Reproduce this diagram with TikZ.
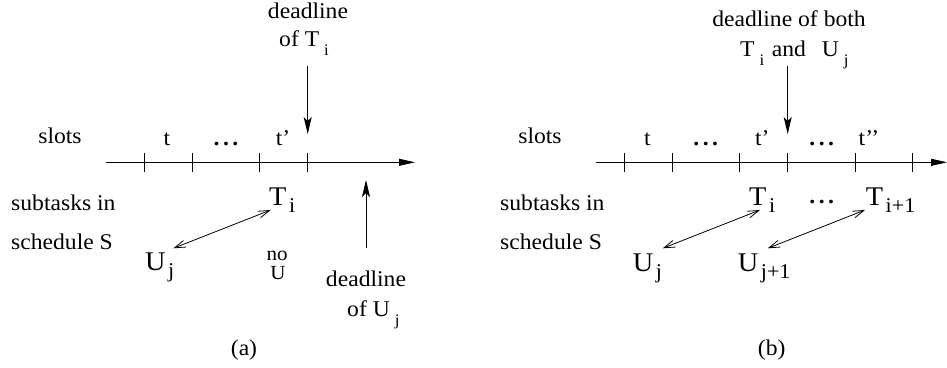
\documentclass[tikz,border=0pt]{standalone}
\usepackage{fontspec}
\setmainfont{Liberation Serif}[FakeStretch=1.05]
\usetikzlibrary{arrows.meta}
\newcommand\nrmfont{\fontsize{22.5}{26}\selectfont}
\newcommand\lblfont{\fontsize{27}{30}\selectfont}
\newcommand\nofont{\fontsize{20}{20}\selectfont}
\newcommand\lsub[1]{\hspace{2.5pt}\raisebox{-7pt}{\fontsize{21}{22}\selectfont #1}}
\newcommand\tsub[1]{\hspace{5pt}\raisebox{-9pt}{\fontsize{16}{17}\selectfont #1}}
\newcommand\dts{\textbf{.\hspace{3.5pt}.\hspace{3.5pt}.}}
\begin{document}
\begin{tikzpicture}[x=1pt,y=-1pt,
  txt/.style={inner sep=0pt, font=\nrmfont},
  big/.style={inner sep=0pt, font=\lblfont},
  axis/.style={line width=0.9pt,-{Triangle[length=16pt,width=7pt]}},
  dl/.style={line width=0.9pt,-{Stealth[length=17pt,width=8pt,inset=4pt]}},
  pair/.style={line width=0.8pt,{Straight Barb[length=11pt,width=7pt]}-{Straight Barb[length=11pt,width=7pt]}},
  tk/.style={line width=0.8pt}]
\useasboundingbox (0,0) rectangle (947,367);

% ---------------- panel (a)
\coordinate (a0) at (106,162.3);
\coordinate (a1) at (415,162.3);
\draw[axis] (a0) -- (a1);
\foreach \x in {144.3,192.7,259.7,307.7} \draw[tk] (\x,152.7) -- (\x,171.7);

\node[txt,anchor=base] (dlTa) at (308,18) {deadline};
\node[txt,anchor=base west] (ofTa) at (279,46.7) {of T\tsub{i}};
\coordinate (dTa0) at (307.7,66);
\coordinate (dTa1) at (307.7,134);
\draw[dl] (dTa0) -- (dTa1);

\node[txt,anchor=base] (slotsa) at (60,143) {slots};
\node[txt,anchor=base] (ta) at (167,145) {t};
\node[txt,anchor=base] (dotsa) at (226,145) {\dts};
\node[txt,anchor=base] (tpa) at (283,145) {t’};

\node[txt,anchor=base west] (suba) at (11,210.7) {subtasks in};
\node[txt,anchor=base west] (scha) at (11,249) {schedule S};

\node[big,anchor=base west] (Tia) at (269,205) {T\lsub{i}};
\node[big,anchor=base west] (Uja) at (145,270) {U\lsub{j}};
\coordinate (pa0) at (173.3,248.3);
\coordinate (pa1) at (270.7,210);
\draw[pair] (pa0) -- (pa1);

\node[inner sep=0pt,font=\nofont,anchor=base] (noa) at (277,260) {no};
\node[inner sep=0pt,font=\nofont,anchor=base] (noUa) at (278,279) {U};

\coordinate (uUa0) at (366,248);
\coordinate (uUa1) at (366,180);
\draw[dl] (uUa0) -- (uUa1);
\node[txt,anchor=base] (dlUa) at (366,286.7) {deadline};
\node[txt,anchor=base west] (ofUa) at (347,316.7) {of U\tsub{j}};

\node[txt,anchor=base] (capa) at (244,355) {(a)};

% ---------------- panel (b)
\coordinate (b0) at (596,162.3);
\coordinate (b1) at (947,162.3);
\draw[axis] (b0) -- (b1);
\foreach \x in {624.3,672.3,739.7,787.7,855,912.7} \draw[tk] (\x,152.7) -- (\x,171.7);

\node[txt,anchor=base] (dlb) at (789,26.7) {deadline of both};
\node[txt,anchor=base west] (Tib0) at (740,56.7) {T\tsub{i}};
\node[txt,anchor=base west] (andb) at (771.7,56.7) {and};
\node[txt,anchor=base west] (Ujb0) at (821.7,56.7) {U\tsub{j}};
\coordinate (dTb0) at (787.7,66);
\coordinate (dTb1) at (787.7,134);
\draw[dl] (dTb0) -- (dTb1);

\node[txt,anchor=base] (slotsb) at (540,143) {slots};
\node[txt,anchor=base] (tb) at (647.3,145) {t};
\node[txt,anchor=base] (dotsb1) at (705.7,145) {\dts};
\node[txt,anchor=base] (tpb) at (762.3,145) {t’};
\node[txt,anchor=base] (dotsb2) at (821.7,145) {\dts};
\node[txt,anchor=base] (tppb) at (869,145) {t’’};

\node[txt,anchor=base west] (subb) at (500,210.7) {subtasks in};
\node[txt,anchor=base west] (schb) at (500,249) {schedule S};

\node[big,anchor=base west] (Tib) at (749,205) {T\lsub{i}};
\node[txt,anchor=base] (dotsb3) at (821.7,203) {\dts};
\node[big,anchor=base west] (Ti1b) at (865.7,205) {T\lsub{i+1}};
\node[big,anchor=base west] (Ujb) at (632.7,271) {U\lsub{j}};
\node[big,anchor=base west] (Uj1b) at (737.7,271) {U\lsub{j+1}};

\coordinate (pb0) at (662.7,248.3);
\coordinate (pb1) at (760,210);
\draw[pair] (pb0) -- (pb1);
\coordinate (pc0) at (767.7,248.3);
\coordinate (pc1) at (865,210);
\draw[pair] (pc0) -- (pc1);

\node[txt,anchor=base] (capb) at (771.7,355) {(b)};
\end{tikzpicture}
\end{document}
